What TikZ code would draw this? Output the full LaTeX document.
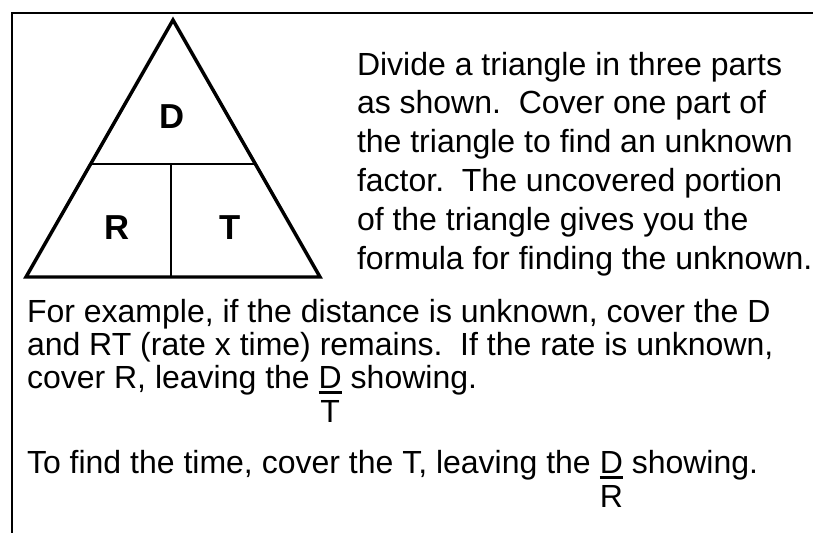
\documentclass[tikz,border=0pt]{standalone}
\usepackage{fontspec}
\setmainfont{Liberation Sans}
\usetikzlibrary{positioning}
\frenchspacing

\begin{document}
\begin{tikzpicture}[x=0.75pt, y=-0.75pt,
    every node/.style={inner sep=0pt, outer sep=0pt},
    frame/.style={line width=1.5pt},
    tri/.style={line width=2.6pt, line join=miter},
    part/.style={line width=1.5pt},
    letter/.style={font=\fontsize{26}{30}\selectfont\bfseries},
    body/.style={font=\fontsize{24}{28}\selectfont, anchor=base west},
    fracbar/.style={line width=2.3pt}
]
\useasboundingbox (0,0) rectangle (813,533);

% Frame (top and left side only)
\coordinate (ftr) at (813,13);
\coordinate (ftl) at (12,13);
\coordinate (fbl) at (12,533);
\draw[frame] (ftr) -- (ftl) -- (fbl);

% Triangle and its three parts
\coordinate (apex) at (173,20);
\coordinate (bl)   at (26,277);
\coordinate (br)   at (320,277);
\coordinate (ml)   at (91,164);
\coordinate (mr)   at (255,164);
\coordinate (mt)   at (171,164);
\coordinate (mb)   at (171,277);
\draw[tri] (apex) -- (bl) -- (br) -- cycle;
\draw[part] (ml) -- (mr);
\draw[part] (mt) -- (mb);

\node[letter] (dist) at (172,117) {D};
\node[letter] (rate) at (117,228) {R};
\node[letter] (time) at (230,228) {T};

% Explanation beside the triangle
\foreach \txt [count=\i] in {
    Divide a triangle in three parts,
    as shown.\ \ Cover one part of,
    the triangle to find an unknown,
    factor.\ \ The uncovered portion,
    of the triangle gives you the,
    formula for finding the unknown.}
  \node[body] (side\i) at (357,{75+38.8*(\i-1)}) {\txt};

% Example text below
\node[body] (ex1) at (27,322) {For example, if the distance is unknown, cover the D};
\node[body] (ex2) at (27,355) {and RT (rate x time) remains.\ \ If the rate is unknown,};
\node[body] (ex3) at (27,388) {cover R, leaving the\ \mbox{}};
\node[body] (dnum1) at (ex3.base east) {D};
\node[body] (ex3b) at (dnum1.base east) {\ showing.};
\node[body, anchor=base] (tden) at ([yshift=-25.5pt]dnum1.base) {T};
\draw[fracbar] ([yshift=-3.5pt]dnum1.base west) -- ([yshift=-3.5pt]dnum1.base east);

\node[body] (ex4) at (27,473) {To find the time, cover the T, leaving the\ \mbox{}};
\node[body] (dnum2) at (ex4.base east) {D};
\node[body] (ex4b) at (dnum2.base east) {\ showing.};
\node[body, anchor=base] (rden) at ([yshift=-25.5pt]dnum2.base) {R};
\draw[fracbar] ([yshift=-3.5pt]dnum2.base west) -- ([yshift=-3.5pt]dnum2.base east);
\end{tikzpicture}
\end{document}
